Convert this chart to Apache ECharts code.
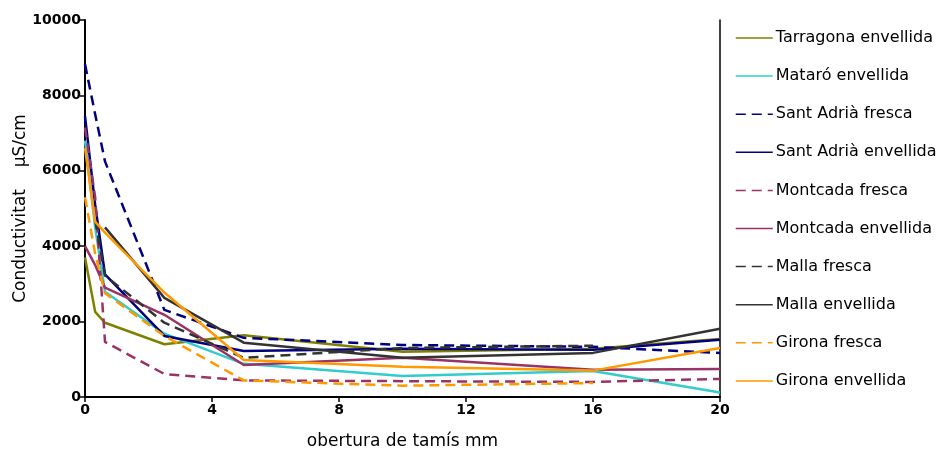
<!DOCTYPE html>
<html>
<head>
<meta charset="utf-8">
<script src="https://cdn.jsdelivr.net/npm/echarts@6/dist/echarts.min.js"></script>
<style>
html,body{margin:0;padding:0;background:#fff;}
#chart{width:942px;height:454px;}
</style>
</head>
<body>
<div id="chart"></div>
<script>
var xValues = [0, 0.32, 0.63, 2.5, 5, 10, 16, 20];
var seriesNames = ["Tarragona envellida","Mataró envellida","Sant Adrià fresca","Sant Adrià envellida","Montcada fresca","Montcada envellida","Malla fresca","Malla envellida","Girona fresca","Girona envellida"];
var tarragonaEnv = [3700, 2260, 1970, 1400, 1640, 1200, 1280, 1540];
var mataroEnv    = [6800, 4500, 2790, 1680, 880, 560, 690, 120];
var santAdriaFr  = [8830, 7500, 6250, 2310, 1570, 1380, 1330, 1170];
var santAdriaEnv = [7450, 5100, 3250, 1620, 1220, 1280, 1250, 1520];
var montcadaFr   = [7150, 5300, 1460, 610, 440, 420, 400, 480];
var montcadaEnv  = [4000, 3500, 2900, 2180, 850, 1040, 720, 740];
var mallaFr      = [null, 4700, 3220, 1970, 1040, 1300, 1360, null];
var mallaEnv     = [null, null, 4500, 2630, 1440, 1040, 1170, 1810];
var gironaFr     = [5300, 3800, 2750, 1620, 440, 300, 370, null];
var gironaEnv    = [6600, 4650, 4360, 2770, 980, 800, 700, 1300];

var allValues = [tarragonaEnv, mataroEnv, santAdriaFr, santAdriaEnv, montcadaFr, montcadaEnv, mallaFr, mallaEnv, gironaFr, gironaEnv];
var colors = ["#808000","#33CCCC","#000080","#000080","#993366","#993366","#333333","#333333","#FF9900","#FF9900"];
var dashed = [false,false,true,false,true,false,true,false,true,false];

function pairs(vals){
  var out = [];
  for (var i=0;i<xValues.length;i++){ if (vals[i] !== null) out.push([xValues[i], vals[i]]); }
  return out;
}

var series = allValues.map(function(v,i){
  return {
    name: seriesNames[i],
    type: 'line',
    data: pairs(v),
    symbol: 'none',
    showSymbol: false,
    animation: false,
    color: colors[i],
    itemStyle: { color: colors[i] },
    lineStyle: { color: colors[i], width: 2.5, type: dashed[i] ? [10,6] : 'solid' }
  };
});

var chart = echarts.init(document.getElementById('chart'), null, {renderer:'canvas'});
chart.setOption({
  animation: false,
  backgroundColor: '#fff',
  grid: { left: 85, right: 222, top: 20, bottom: 57, containLabel: false, outerBoundsMode: 'none' },
  legend: {
    orient: 'vertical',
    left: 735,
    top: 30,
    padding: 0,
    itemWidth: 37,
    itemHeight: 14,
    itemGap: 22.1,
    itemStyle: { opacity: 0, borderWidth: 0 },
    lineStyle: { width: 1.5 },
    textStyle: { fontFamily: 'DejaVu Sans', fontSize: 16, color: '#000', padding: [0,0,0,-2] },
    data: seriesNames
  },
  xAxis: {
    type: 'value', min: 0, max: 20, interval: 4,
    name: 'obertura de tamís mm', nameLocation: 'middle', nameGap: 36, nameMoveOverlap: false,
    nameTextStyle: { fontFamily: 'DejaVu Sans', fontSize: 17, color: '#000' },
    axisLine: { lineStyle: { color: '#000', width: 2 } },
    axisTick: { show: true, length: 5, lineStyle: { color: '#000', width: 1.5 } },
    axisLabel: { fontFamily: 'DejaVu Sans', fontSize: 14, fontWeight: 'bold', color: '#000', margin: 6,
                 formatter: function(v){ return String(v); } },
    splitLine: { show: false }
  },
  yAxis: [{
    type: 'value', min: 0, max: 10000, interval: 2000,
    name: 'Conductivitat    µS/cm', nameLocation: 'middle', nameGap: 56, nameMoveOverlap: false,
    nameTextStyle: { fontFamily: 'DejaVu Sans', fontSize: 17, color: '#000' },
    axisLine: { show: true, lineStyle: { color: '#000', width: 2 } },
    axisTick: { show: true, length: 5, lineStyle: { color: '#000', width: 1.5 } },
    axisLabel: { fontFamily: 'DejaVu Sans', fontSize: 14, fontWeight: 'bold', color: '#000', margin: 4,
                 formatter: function(v){ return String(v); } },
    splitLine: { show: false }
  },{
    type: 'value', min: 0, max: 10000, interval: 2000, position: 'right',
    axisLine: { show: true, lineStyle: { color: '#000', width: 1.5 } },
    axisTick: { show: false }, axisLabel: { show: false }, splitLine: { show: false }
  }],
  series: series
});
</script>
</body>
</html>
